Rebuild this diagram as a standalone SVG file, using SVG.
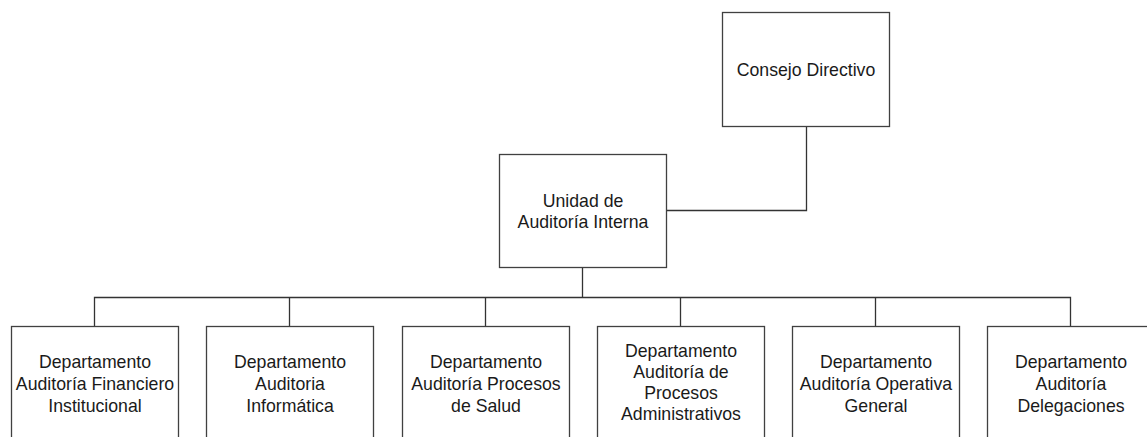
<svg xmlns="http://www.w3.org/2000/svg" width="1147" height="437" viewBox="0 0 1147 437">
  <style>
    .box { fill: #ffffff; stroke: #404040; stroke-width: 1.3; }
    .wire { fill: none; stroke: #333333; stroke-width: 1.3; }
    .label { font-family: "Liberation Sans", Arial, sans-serif; font-size: 17.7px; fill: #1a1a1a; text-anchor: middle; }
  </style>
  <rect width="1147" height="437" fill="#ffffff"/>

  <!-- connectors -->
  <g id="connectors">
    <path class="wire" d="M806.5,126.5 V210.5 H666.5"/>
    <path class="wire" d="M582.5,267.5 V297.5"/>
    <path class="wire" d="M94.5,326.5 V297.5 H1070.5 V326.5"/>
    <path class="wire" d="M289.5,297.5 V326.5"/>
    <path class="wire" d="M485.5,297.5 V326.5"/>
    <path class="wire" d="M680.5,297.5 V326.5"/>
    <path class="wire" d="M875.5,297.5 V326.5"/>
  </g>

  <g id="consejo-directivo">
    <rect class="box" x="722.5" y="12.5" width="167" height="114"/>
    <text class="label" x="806" y="75.5">Consejo Directivo</text>
  </g>

  <g id="unidad-auditoria-interna">
    <rect class="box" x="499.5" y="154.5" width="167" height="113"/>
    <text class="label" x="583" y="206.5">Unidad de</text>
    <text class="label" x="583" y="227.5">Auditoría Interna</text>
  </g>

  <g id="depto-financiero">
    <rect class="box" x="11.5" y="326.5" width="167" height="114"/>
    <text class="label" x="95" y="368">Departamento</text>
    <text class="label" x="95" y="390">Auditoría Financiero</text>
    <text class="label" x="95" y="411.5">Institucional</text>
  </g>

  <g id="depto-informatica">
    <rect class="box" x="206.5" y="326.5" width="167" height="114"/>
    <text class="label" x="290" y="368">Departamento</text>
    <text class="label" x="290" y="390">Auditoria</text>
    <text class="label" x="290" y="411.5">Informática</text>
  </g>

  <g id="depto-salud">
    <rect class="box" x="402.5" y="326.5" width="167" height="114"/>
    <text class="label" x="486" y="368">Departamento</text>
    <text class="label" x="486" y="390">Auditoría Procesos</text>
    <text class="label" x="486" y="411.5">de Salud</text>
  </g>

  <g id="depto-administrativos">
    <rect class="box" x="597.5" y="326.5" width="167" height="114"/>
    <text class="label" x="681" y="356.5">Departamento</text>
    <text class="label" x="681" y="377.5">Auditoría de</text>
    <text class="label" x="681" y="398.5">Procesos</text>
    <text class="label" x="681" y="420">Administrativos</text>
  </g>

  <g id="depto-operativa">
    <rect class="box" x="792.5" y="326.5" width="167" height="114"/>
    <text class="label" x="876" y="368">Departamento</text>
    <text class="label" x="876" y="390">Auditoría Operativa</text>
    <text class="label" x="876" y="411.5">General</text>
  </g>

  <g id="depto-delegaciones">
    <rect class="box" x="987.5" y="326.5" width="167" height="114"/>
    <text class="label" x="1071" y="368">Departamento</text>
    <text class="label" x="1071" y="390">Auditoría</text>
    <text class="label" x="1071" y="411.5">Delegaciones</text>
  </g>
</svg>
